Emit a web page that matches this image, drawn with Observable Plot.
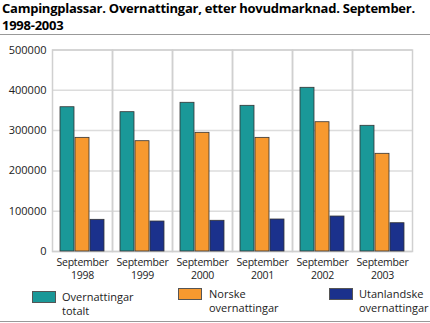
<!DOCTYPE html>
<html>
<head>
<meta charset="utf-8">
<script src="https://cdn.jsdelivr.net/npm/d3@7"></script>
<script src="https://cdn.jsdelivr.net/npm/@observablehq/plot@0.6"></script>
<style>
  body { margin: 0; background: #fff; font-family: "Open Sans", sans-serif; }
  #wrap { position: relative; width: 430px; height: 323px; overflow: hidden; }
  #title { position: absolute; left: 2px; top: 0px; font-size: 13px; font-weight: bold; line-height: 16.5px; color: #000; white-space: nowrap; letter-spacing: -0.25px; }
  #rule1 { position: absolute; left: 0; top: 34px; width: 430px; height: 1px; background: #999; }
  #rule2 { position: absolute; left: 0; top: 321px; width: 430px; height: 1px; background: #999; }
  #chart { position: absolute; left: 0; top: 38px; }
  .leg { position: absolute; font-size: 11px; line-height: 14px; color: #222; white-space: nowrap; }
  .sw { position: absolute; width: 22px; height: 10px; border: 1px solid #555; }
</style>
</head>
<body>
<div id="wrap">
  <div id="title">Campingplassar. Overnattingar, etter hovudmarknad. September.<br>1998-2003</div>
  <div id="rule1"></div>
  <div id="chart"></div>
  <div id="legend"></div>
  <div id="rule2"></div>
</div>
<script>
const years = ["1998", "1999", "2000", "2001", "2002", "2003"];
const seriesNames = ["Overnattingar totalt", "Norske overnattingar", "Utanlandske overnattingar"];
const totalt = [358000, 345700, 369000, 361500, 406200, 311900];
const norske = [282000, 273700, 294500, 282000, 320800, 242400];
const utanlandske = [78600, 74400, 76200, 79400, 86800, 70200];
const yTicks = [0, 100000, 200000, 300000, 400000, 500000];
const colors = ["#1a9898", "#f7992f", "#1b318c"];

const values = [totalt, norske, utanlandske];
const data = [];
years.forEach((y, i) => {
  seriesNames.forEach((s, j) => data.push({year: y, series: s, value: values[j][i]}));
});

const chart = Plot.plot({
  width: 430,
  height: 250,
  marginTop: 11.5,
  marginBottom: 37,
  marginLeft: 52,
  marginRight: 18,
  style: {fontFamily: "Open Sans, sans-serif", fontSize: "11px", color: "#222"},
  fx: {domain: years, padding: 0, label: null, axis: null},
  x: {domain: seriesNames, axis: null, paddingInner: 0.1, paddingOuter: 0.44},
  y: {domain: [0, 500000], ticks: yTicks, label: null, tickSize: 0, tickPadding: 6,
      tickFormat: d => String(d)},
  color: {domain: seriesNames, range: colors},
  marks: [
    Plot.ruleY(yTicks, {stroke: "#dcdcdc", strokeWidth: 1.5}),
    Plot.frame({stroke: "#d0d0d0", strokeWidth: 1.5}),
    Plot.barY(data, {fx: "year", x: "series", y: "value", fill: "series",
                     stroke: "#333", strokeWidth: 0.8}),
    Plot.axisFx({anchor: "bottom", label: null, tickSize: 0, tickPadding: 5, fontSize: 10.5,
                 lineHeight: 1.25, tickFormat: d => "September\n" + d})
  ]
});
chart.querySelectorAll("[aria-label='fx-axis tick label'] text").forEach(t => {
  t.style.letterSpacing = "-0.2px";
});
document.getElementById("chart").appendChild(chart);

const legend = document.getElementById("legend");
const legPos = [{sx: 32, tx: 62}, {sx: 178, tx: 209}, {sx: 329, tx: 359}];
const legText = [["Overnattingar", "totalt"], ["Norske", "overnattingar"], ["Utanlandske", "overnattingar"]];
seriesNames.forEach((s, i) => {
  const sw = document.createElement("div");
  sw.className = "sw";
  sw.style.left = legPos[i].sx + "px";
  sw.style.top = (i === 0 ? 291 : 288) + "px";
  sw.style.background = colors[i];
  legend.appendChild(sw);
  const t = document.createElement("div");
  t.className = "leg";
  t.style.left = legPos[i].tx + "px";
  t.style.top = (i === 0 ? 290 : 287) + "px";
  t.innerHTML = legText[i].join("<br>");
  legend.appendChild(t);
});
</script>
</body>
</html>
